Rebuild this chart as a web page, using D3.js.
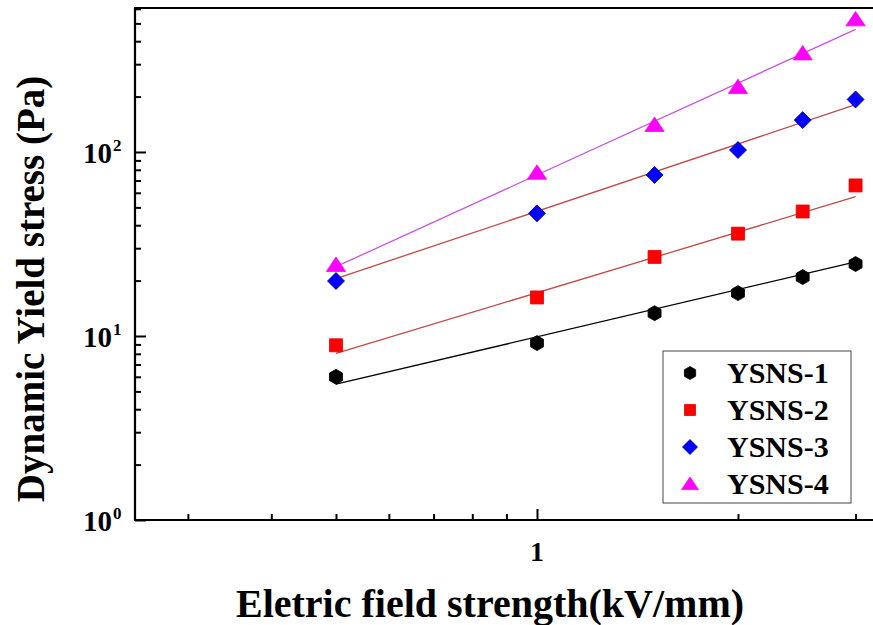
<!DOCTYPE html>
<html>
<head>
<meta charset="utf-8">
<script src="https://cdn.jsdelivr.net/npm/d3@7"></script>
<style>
  html, body { margin: 0; padding: 0; background: #fff; }
  svg { display: block; }
  text { font-family: "Liberation Serif", "Times New Roman", serif; font-weight: bold; fill: #000; }
</style>
</head>
<body>
<svg id="chart" width="873" height="625"></svg>
<script>
// ---- data ----
const fieldStrength = [0.5, 1, 1.5, 2, 2.5, 3];
const seriesNames = ["YSNS-1", "YSNS-2", "YSNS-3", "YSNS-4"];
const ysns1 = [6.0, 9.15, 13.3, 17.1, 20.9, 24.6];
const ysns2 = [8.9, 16.2, 26.9, 36.0, 47.5, 65.8];
const ysns3 = [19.9, 46.4, 75, 102.5, 149, 193];
const ysns4 = [24.3, 77, 140, 225, 343, 525];
// fitted power-law lines, value at first and last field strength
const fitX = [0.5, 3];
const fitStart = [5.47, 8.05, 20.5, 23.8];
const fitEnd = [25.3, 57.2, 181, 464];
const xMajorTicks = [1];
const xMinorTicks = [0.3, 0.4, 0.5, 0.6, 0.7, 0.8, 0.9, 2, 3];
const yMajorTicks = [1, 10, 100];
const yMajorExp = ["0", "1", "2"];
const yMinorTicks = [2,3,4,5,6,7,8,9,20,30,40,50,60,70,80,90,200,300,400,500,600];
const xTickLabels = ["1"];
const xTitle = "Eletric field strength(kV/mm)";
const yTitle = "Dynamic Yield stress (Pa)";

// ---- styling ----
const markerFill = ["#000000", "#ff0000", "#0000ff", "#ff00ff"];
const markerStroke = ["#000000", "#e00000", "#00008b", "#ff00ff"];
const fitColor = ["#000000", "#c04848", "#c04848", "#c455dd"];
const shapes = ["hex", "square", "diamond", "triangle"];

const svg = d3.select("#chart");
const plotLeft = 135, plotTop = 8, plotBottom = 520;

const x = d3.scaleLog().domain([0.25, 3.25]).range([plotLeft, plotLeft + 667.7 * Math.log10(3.25 / 0.25)]);
const y = d3.scaleLog().domain([1, 606]).range([plotBottom, plotTop]);

const series = [ysns1, ysns2, ysns3, ysns4];

// fit lines
const line = d3.line().x(d => x(d[0])).y(d => y(d[1]));
series.forEach((s, i) => {
  svg.append("path")
    .attr("d", line([[fitX[0], fitStart[i]], [fitX[1], fitEnd[i]]]))
    .attr("fill", "none")
    .attr("stroke", fitColor[i])
    .attr("stroke-width", 1.3);
});

function shapePath(type, r) {
  if (type === "hex") {
    const pts = d3.range(6).map(k => {
      const a = Math.PI / 2 + k * Math.PI / 3;
      return [r * Math.cos(a), r * Math.sin(a)];
    });
    return "M" + pts.map(p => p.join(",")).join("L") + "Z";
  }
  if (type === "square") return `M${-r},${-r}H${r}V${r}H${-r}Z`;
  if (type === "diamond") return `M0,${-r}L${r},0L0,${r}L${-r},0Z`;
  return `M0,${-r}L${r * 1.2},${r * 0.8}L${-r * 1.2},${r * 0.8}Z`;
}
const plotSize = [7.5, 6.5, 8.5, 8];
const legendSize = [6.5, 5.5, 7.5, 7];

// markers
series.forEach((s, i) => {
  svg.append("g").selectAll("path")
    .data(s.map((v, j) => [fieldStrength[j], v]))
    .join("path")
    .attr("transform", d => `translate(${x(d[0])},${y(d[1])})`)
    .attr("d", shapePath(shapes[i], plotSize[i]))
    .attr("fill", markerFill[i])
    .attr("stroke", markerStroke[i])
    .attr("stroke-width", 0.8);
});

// axes (ticks inside)
const axisColor = "#000";
const gy = svg.append("g").attr("transform", `translate(${plotLeft},0)`);
gy.call(d3.axisLeft(y).tickValues(yMinorTicks).tickSize(-6).tickFormat(""));
gy.append("g").call(d3.axisLeft(y).tickValues(yMajorTicks).tickSize(-11).tickFormat(""));
const gx = svg.append("g").attr("transform", `translate(0,${plotBottom})`);
gx.call(d3.axisBottom(x).tickValues(xMinorTicks).tickSize(-6).tickFormat(""));
gx.append("g").call(d3.axisBottom(x).tickValues(xMajorTicks).tickSize(-11).tickFormat(""));
svg.selectAll(".domain").remove();
svg.selectAll(".tick line").attr("stroke", axisColor).attr("stroke-width", 2);

// frame lines: left, bottom, top
svg.append("line").attr("x1", plotLeft).attr("x2", plotLeft).attr("y1", plotTop).attr("y2", plotBottom)
  .attr("stroke", axisColor).attr("stroke-width", 2.2);
svg.append("line").attr("x1", plotLeft - 1).attr("x2", 873).attr("y1", plotBottom).attr("y2", plotBottom)
  .attr("stroke", axisColor).attr("stroke-width", 2.2);
svg.append("line").attr("x1", plotLeft - 1).attr("x2", 873).attr("y1", plotTop).attr("y2", plotTop)
  .attr("stroke", axisColor).attr("stroke-width", 2.2);

// y tick labels 10^n
yMajorTicks.forEach((v, i) => {
  svg.append("text")
    .attr("x", 112).attr("y", y(v) + 11)
    .attr("text-anchor", "end")
    .attr("font-size", 29)
    .text("10");
  svg.append("text")
    .attr("x", 113).attr("y", y(v) - 1)
    .attr("font-size", 17)
    .text(yMajorExp[i]);
});
// x tick labels
xMajorTicks.forEach((v, i) => {
  svg.append("text")
    .attr("x", x(v)).attr("y", 561)
    .attr("text-anchor", "middle")
    .attr("font-size", 28)
    .text(xTickLabels[i]);
});

// axis titles
svg.append("text")
  .attr("x", 490).attr("y", 617)
  .attr("text-anchor", "middle")
  .attr("font-size", 40)
  .text(xTitle);
svg.append("text")
  .attr("transform", `translate(44,289) rotate(-90)`)
  .attr("text-anchor", "middle")
  .attr("font-size", 39)
  .text(yTitle);

// legend
const lg = svg.append("g");
lg.append("rect")
  .attr("x", 663).attr("y", 351).attr("width", 188).attr("height", 152)
  .attr("fill", "#fff").attr("stroke", "#444").attr("stroke-width", 1);
seriesNames.forEach((name, i) => {
  const cy = 373 + i * 37;
  lg.append("path")
    .attr("transform", `translate(690,${cy})`)
    .attr("d", shapePath(shapes[i], legendSize[i]))
    .attr("fill", markerFill[i])
    .attr("stroke", markerStroke[i])
    .attr("stroke-width", 0.8);
  lg.append("text")
    .attr("x", 727).attr("y", cy + 10)
    .attr("font-size", 30)
    .text(name);
});
</script>
</body>
</html>
